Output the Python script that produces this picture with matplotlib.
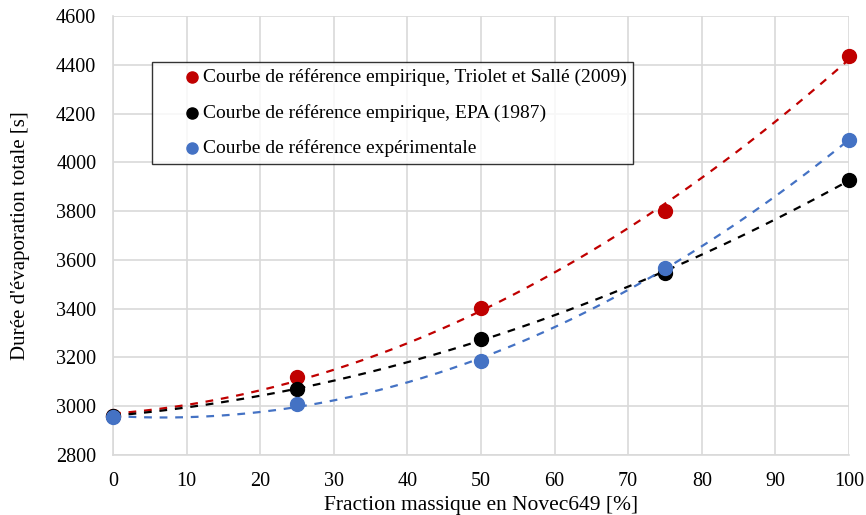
import numpy as np
import matplotlib
matplotlib.use("Agg")
import matplotlib.pyplot as plt

plt.rcParams['font.family'] = ['Liberation Serif', 'DejaVu Serif']

x = [0, 25, 50, 75, 100]
triolet = [2960, 3120, 3402, 3800, 4435]
epa = [2960, 3072, 3276, 3546, 3928]
exp = [2956, 3009, 3185, 3568, 4092]

labels = ["Courbe de référence empirique, Triolet et Sallé (2009)",
          "Courbe de référence empirique, EPA (1987)",
          "Courbe de référence expérimentale"]
colors = ["#C00000", "#000000", "#4472C4"]

fig = plt.figure(figsize=(8.66, 5.15), dpi=100)
ax = fig.add_axes([0.1305, 0.1165, 0.8498, 0.8525])

xs = np.linspace(0, 100, 200)
handles = []
for ys, lab, c in zip([triolet, epa, exp], labels, colors):
    # polynomial order 2 trendline, like Excel
    p = np.polyfit(x, ys, 2)
    ax.plot(xs, np.polyval(p, xs), color=c, lw=1.6, ls=(0, (3.5, 3.5)), zorder=3)
    h = ax.scatter(x, ys, s=100, color=c, zorder=4, label=lab, clip_on=False)
    handles.append(h)

ax.set_xlim(0, 100)
ax.set_ylim(2800, 4600)
ax.set_xticks(range(0, 101, 10))
ax.set_yticks(range(2800, 4601, 200))
ax.grid(True, color="#D9D9D9", lw=1.2)
ax.set_axisbelow(True)
for s in ["top", "right"]:
    ax.spines[s].set_visible(False)
for s in ["left", "bottom"]:
    ax.spines[s].set_color("#D9D9D9")
    ax.spines[s].set_linewidth(1.2)
ax.tick_params(length=0, labelsize=14.5, pad=12)
ax.set_xlabel("Fraction massique en Novec649 [%]", fontsize=15.5)
ax.set_ylabel("Durée d'évaporation totale [s]", fontsize=15)
ax.xaxis.set_label_coords(0.5, -0.094)
ax.yaxis.set_label_coords(-0.113, 0.5)

leg = ax.legend(handles=handles, loc="upper left", bbox_to_anchor=(0.053, 0.895),
                borderaxespad=0, fontsize=14, frameon=True, fancybox=False,
                edgecolor="black", handletextpad=-1.2, handlelength=3.5,
                labelspacing=0.9, borderpad=0.33, scatterpoints=1, markerscale=0.8)
leg.get_frame().set_linewidth(1.0)

fig.savefig("out.png", dpi=100)
